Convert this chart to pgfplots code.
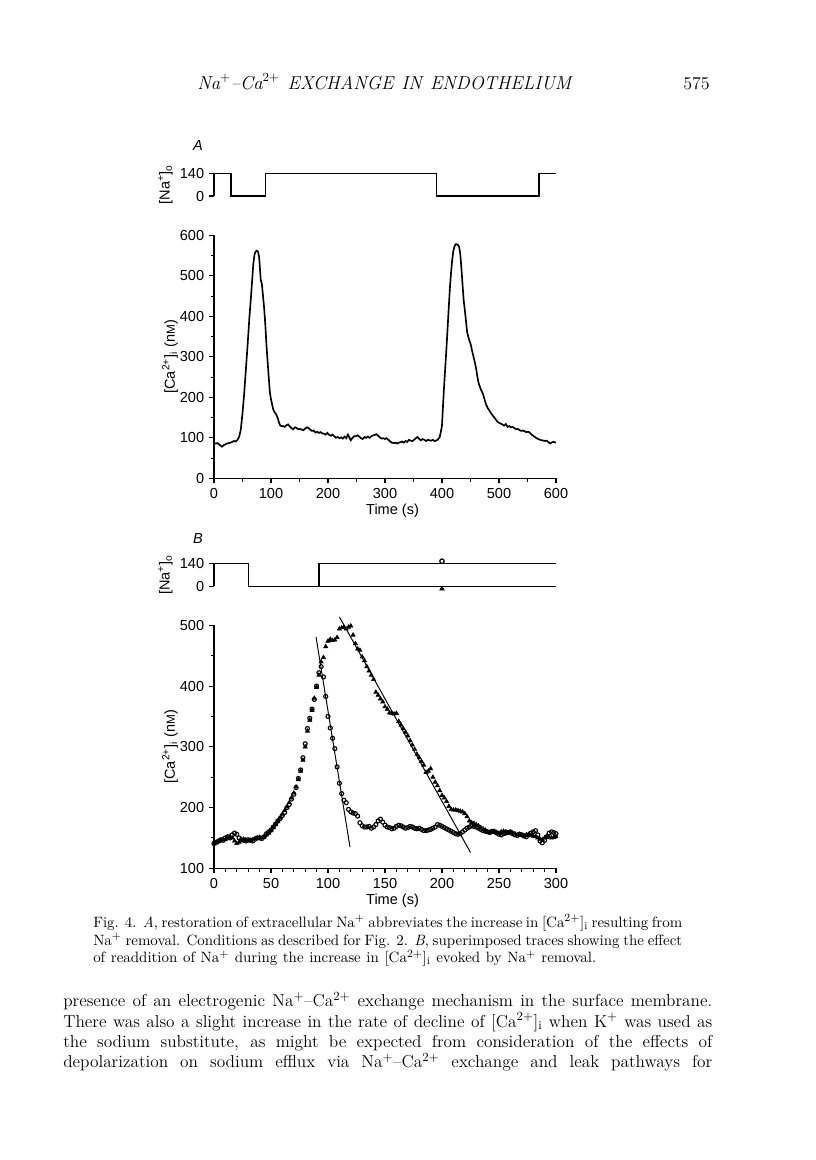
\documentclass[border=0pt]{standalone}
\usepackage{fontspec}
\usepackage{pgfplots}
\pgfplotsset{compat=1.18}
\newfontfamily\figfont{Liberation Sans}
\pgfplotsset{
 fig/.style={scale only axis, width=3.42in, tick align=outside,
  major tick length=0.05in, minor tick length=0.035in,
  axis line style={line width=0.9pt}, tick style={line width=0.8pt, black},
  /pgf/number format/assume math mode=true,
  ticklabel style={font=\figfont\fontsize{10.5}{12}\selectfont},
  label style={font=\figfont\fontsize{10.5}{12}\selectfont},
  clip=false},
 naax/.style={fig, height=0.227in, axis x line=none, axis y line*=left,
  ymin=0, ymax=140, ytick={0,140},
  ylabel={[Na\textsuperscript{+}]\textsubscript{o}},
  ylabel style={at={(axis description cs:-0.142,0.5)}, anchor=center}},
 caax/.style={fig, height=2.43in, axis x line*=bottom, axis y line*=left,
  xlabel={Time (s)},
  xlabel style={at={(axis description cs:0.522,0)}, anchor=center, yshift=-0.324in},
  ylabel={[Ca\textsuperscript{2+}]\textsubscript{i} (n{\fontsize{8.5}{9}\selectfont M})},
  ylabel style={at={(axis description cs:-0.1287,0.5)}, anchor=center}},
}
\begin{document}
\begin{tikzpicture}
\useasboundingbox (0,0) rectangle (8.16in,-11.6in);
% header
\node[anchor=base west, inner sep=0] at (1.97in,-0.89in) {\fontsize{13.5}{15}\selectfont\itshape\hbox to 3.74in{Na$^{+}$--Ca$^{2+}$ \hfil EXCHANGE \hfil IN \hfil ENDOTHELIUM}};
\node[anchor=base east, inner sep=0] at (7.10in,-0.89in) {\fontsize{13}{15}\selectfont 575};
% panel letters
\node[font=\figfont\itshape\fontsize{10.5}{12}\selectfont] at (1.98in,-1.45in) {A};
\node[font=\figfont\itshape\fontsize{10.5}{12}\selectfont] at (1.98in,-5.38in) {B};

% A: Na
\begin{axis}[naax, at={(2.14in,-1.96in)}, anchor=south west, xmin=0, xmax=600]
\addplot[black, line width=1pt] coordinates {(0,140)(30,140)(30,0)(90,0)(90,140)(390,140)(390,0)(570,0)(570,140)(600,140)};
\end{axis}

% A: Ca
\begin{axis}[caax, at={(2.14in,-4.783in)}, anchor=south west, xmin=0, xmax=600, ymin=0, ymax=600,
  xtick={0,100,...,600}, minor xtick={50,150,...,550}, ytick={0,100,...,600}, minor ytick={50,150,...,550}]
\addplot[black, line width=1.2pt] coordinates {
(0,86)(3,86)(6,87)(9,84)(12,80)(14,78)(17,82)(20,84)(23,86)(26,87)(29,88)(32,90)(35,92)(38,91)(41,95)(44,102)(47,120)(50,160)(53,210)(56,270)(59,330)(62,395)(65,450)(67,490)(69,530)(71,552)(73,560)(75,562)(77,560)(79,548)(80,530)(82,490)(84,480)(86,450)(88,420)(90,380)(92,330)(94,290)(96,250)(98,212)(100,195)(102,182)(104,170)(106,164)(108,160)(110,155)(112,148)(114,138)(116,131)(118,129)(121,129)(124,127)(127,131)(130,133)(133,128)(136,124)(139,121)(142,126)(145,124)(148,121)(151,122)(154,120)(157,119)(160,123)(163,126)(166,124)(169,120)(172,117)(175,118)(178,113)(181,115)(184,112)(187,114)(190,111)(193,110)(196,108)(199,112)(202,107)(205,105)(208,108)(211,104)(214,100)(217,102)(220,99)(223,101)(226,98)(229,103)(232,99)(235,108)(237,102)(240,94)(243,100)(246,104)(249,104)(252,106)(255,103)(258,99)(261,97)(264,102)(267,100)(270,103)(273,100)(276,104)(279,106)(282,107)(285,109)(288,105)(291,101)(294,98)(297,99)(300,97)(303,99)(306,95)(309,91)(312,88)(315,87)(318,88)(321,86)(324,88)(327,89)(330,91)(333,88)(336,92)(339,90)(342,95)(345,93)(348,92)(351,95)(354,99)(357,102)(360,97)(363,94)(366,97)(369,95)(372,92)(375,95)(378,94)(381,93)(384,95)(387,92)(390,93)(393,96)(396,102)(398,115)(400,130)(402,185)(404,235)(406,280)(408,325)(410,375)(412,425)(414,473)(416,510)(418,540)(420,562)(422,573)(424,578)(426,578)(428,576)(430,572)(432,555)(434,520)(436,480)(438,440)(440,416)(442,390)(444,362)(446,350)(448,340)(450,333)(452,320)(454,308)(456,296)(458,284)(460,270)(462,252)(464,236)(466,228)(468,220)(470,214)(472,208)(474,198)(476,188)(478,180)(480,174)(482,170)(484,165)(486,161)(488,157)(490,153)(492,150)(494,146)(496,142)(498,139)(500,137)(503,135)(506,133)(509,130)(512,134)(515,127)(518,129)(521,126)(524,127)(527,124)(530,121)(533,122)(536,119)(539,117)(542,118)(545,116)(548,114)(551,115)(554,113)(557,108)(560,105)(563,102)(566,99)(569,97)(572,95)(575,94)(578,93)(581,92)(584,93)(587,89)(590,86)(593,89)(596,90)(600,88)};
\end{axis}

% B: Na
\begin{axis}[naax, at={(2.14in,-5.863in)}, anchor=south west, xmin=0, xmax=300]
\addplot[black, line width=1pt] coordinates {(0,140)(30,140)(30,0)(300,0)};
\addplot[black, line width=1pt] coordinates {(92,0)(92,140)(300,140)};
\addplot[only marks, mark=o, mark size=1.6pt, mark options={line width=0.9pt}] coordinates {(200,155)};
\addplot[only marks, mark=triangle*, mark size=1.9pt] coordinates {(200,-15)};
\end{axis}

% B: Ca
\begin{axis}[caax, at={(2.14in,-8.683in)}, anchor=south west, xmin=0, xmax=300, ymin=100, ymax=500,
  xtick={0,50,...,300}, minor xtick={10,20,...,290}, ytick={100,200,...,500}, minor ytick={150,250,...,450}]
\addplot[only marks, mark=triangle*, mark size=1.75pt] coordinates {
(0,140)(2,142)(4,144)(6,146)(8,148)(10,147)(12,150)(14,152)(16,150)(18,145)(20,141)(22,143)(24,146)(26,148)(28,147)(30,145)(32,146)(34,147)(36,149)(38,150)(40,151)(42,150)(44,152)(46,155)(48,158)(50,162)(52,167)(54,172)(56,177)(58,183)(60,189)(62,195)(64,201)(66,208)(68,216)(70,224)(72,234)(74,246)(76,260)(78,278)(80,300)(82,326)(84,344)(86,360)(88,380)(90,398)(92,418)(94,440)(96,447)(98,465)(100,474)(102,477)(104,475)(106,476)(108,480)(110,494)(112,496)(114,497)(116,494)(118,497)(120,499)(122,484)(124,470)(126,461)(128,459)(130,448)(132,442)(134,432)(136,425)(138,418)(140,411)(142,390)(144,385)(146,379)(148,374)(150,366)(152,362)(154,356)(156,355)(158,354)(160,355)(162,342)(164,336)(166,330)(168,324)(170,318)(172,310)(174,303)(176,296)(178,288)(180,282)(182,276)(184,270)(186,258)(188,260)(190,264)(192,250)(194,242)(196,236)(198,228)(200,220)(202,216)(204,210)(206,202)(208,197)(210,196)(212,196)(214,195)(216,194)(218,193)(220,190)(222,185)(224,178)(226,175)(228,174)(230,172)(232,170)(234,167)(236,165)(238,163)(240,160)(242,159)(244,160)(246,161)(248,159)(250,158)(252,160)(254,161)(256,160)(258,158)(260,159)(262,158)(264,157)(266,155)(268,156)(270,155)(272,154)(274,155)(276,156)(278,154)(280,153)(282,152)(284,150)(286,148)(288,147)(290,150)(292,153)(294,152)(296,150)(298,151)(300,152)};
\addplot[only marks, mark=o, mark size=1.45pt, mark options={line width=0.8pt}] coordinates {
(0,141)(2,143)(4,145)(6,147)(8,146)(10,150)(12,152)(14,150)(16,155)(18,158)(20,156)(22,150)(24,147)(26,146)(28,145)(30,147)(32,146)(34,145)(36,148)(38,150)(40,150)(42,149)(44,152)(46,157)(48,160)(50,163)(52,168)(54,173)(56,178)(58,182)(60,187)(62,192)(64,200)(66,205)(68,214)(70,222)(72,233)(74,248)(76,262)(78,282)(80,305)(82,330)(84,347)(86,362)(88,378)(90,400)(92,422)(94,432)(96,415)(98,383)(100,350)(102,331)(104,314)(106,297)(108,267)(110,240)(112,223)(114,212)(116,208)(118,197)(120,193)(122,191)(124,190)(126,186)(128,175)(130,170)(132,168)(134,168)(136,169)(138,166)(140,168)(142,172)(144,178)(146,181)(148,176)(150,171)(152,168)(154,167)(156,165)(158,166)(160,169)(162,171)(164,170)(166,168)(168,166)(170,167)(172,169)(174,168)(176,166)(178,165)(180,166)(182,164)(184,162)(186,162)(188,163)(190,164)(192,166)(194,168)(196,172)(198,171)(200,169)(202,167)(204,165)(206,163)(208,161)(210,159)(212,157)(214,156)(216,157)(218,160)(220,163)(222,166)(224,168)(226,170)(228,169)(230,168)(232,166)(234,164)(236,162)(238,161)(240,160)(242,159)(244,161)(246,160)(248,158)(250,156)(252,155)(254,157)(256,158)(258,159)(260,160)(262,157)(264,155)(266,154)(268,156)(270,155)(272,153)(274,152)(276,155)(278,158)(280,160)(282,162)(284,155)(286,145)(288,142)(290,146)(292,152)(294,158)(296,160)(298,159)(300,157)};
\addplot[black, line width=0.7pt] coordinates {(89.5,481)(119.3,135)};
\addplot[black, line width=0.7pt] coordinates {(110,514)(225,126)};
\end{axis}

% caption
\node[anchor=base west, inner sep=0] at (0.93in,-9.273in) {\fontsize{10.8}{12}\selectfont\hbox to 5.89in{Fig. 4. \textit{A}, restoration of extracellular Na$^{+}$ abbreviates the increase in [Ca$^{2+}$]$_{\mathrm{i}}$ resulting from}};
\node[anchor=base west, inner sep=0] at (0.93in,-9.45in) {\fontsize{10.8}{12}\selectfont\hbox to 5.89in{Na$^{+}$ removal. Conditions as described for Fig. 2. \textit{B}, superimposed traces showing the effect}};
\node[anchor=base west, inner sep=0] at (0.93in,-9.627in) {\fontsize{10.8}{12}\selectfont\hbox to 5.03in{of readdition of Na$^{+}$ during the increase in [Ca$^{2+}$]$_{\mathrm{i}}$ evoked by Na$^{+}$ removal.}};
% body
\node[anchor=base west, inner sep=0] at (0.63in,-10.067in) {\fontsize{12.5}{14}\selectfont\hbox to 6.49in{presence of an electrogenic Na$^{+}$--Ca$^{2+}$ exchange mechanism in the surface membrane.}};
\node[anchor=base west, inner sep=0] at (0.63in,-10.27in) {\fontsize{12.5}{14}\selectfont\hbox to 6.49in{There was also a slight increase in the rate of decline of [Ca$^{2+}$]$_{\mathrm{i}}$ when K$^{+}$ was used as}};
\node[anchor=base west, inner sep=0] at (0.63in,-10.473in) {\fontsize{12.5}{14}\selectfont\hbox to 6.49in{the sodium substitute, as might be expected from consideration of the effects of}};
\node[anchor=base west, inner sep=0] at (0.63in,-10.673in) {\fontsize{12.5}{14}\selectfont\hbox to 6.49in{depolarization on sodium efflux via Na$^{+}$--Ca$^{2+}$ exchange and leak pathways for}};
\end{tikzpicture}
\end{document}
